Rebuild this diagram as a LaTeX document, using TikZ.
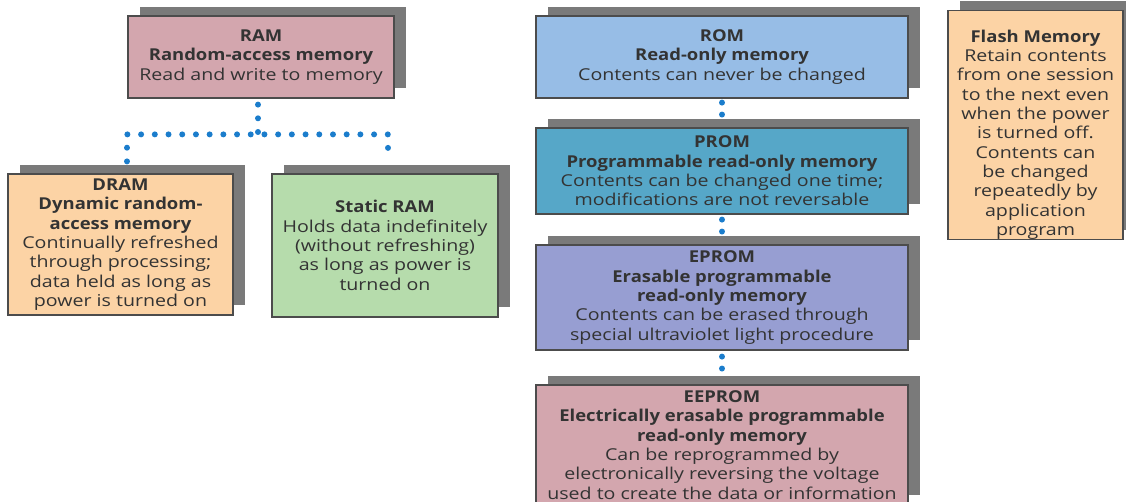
\documentclass[tikz,border=0pt]{standalone}
\usepackage{fontspec}
\setmainfont{Open Sans}[FakeStretch=1.2, BoldFeatures={FakeStretch=1.13}]
\usetikzlibrary{calc}
\usetikzlibrary{shadows}

\definecolor{rampink}{HTML}{D3A6AE}
\definecolor{peach}{HTML}{FCD3A5}
\definecolor{srgreen}{HTML}{B6DCAC}
\definecolor{romblue}{HTML}{97BDE6}
\definecolor{promteal}{HTML}{56A7C8}
\definecolor{epromviolet}{HTML}{979ED2}
\definecolor{shadowgray}{HTML}{7A7A7A}
\definecolor{dotblue}{HTML}{1B7DCC}

\tikzset{
  membox/.style={draw=black!70, line width=.7pt, align=center, inner sep=0pt, text=black!80,
    general shadow={fill=shadowgray, shadow xshift=.24cm, shadow yshift=.19cm},
    font=\fontsize{9.3}{11}\selectfont},
  dotline/.style={draw=dotblue, line width=3.4pt, line cap=round, dash pattern=on 0pt off 7.8pt},
  pairdots/.style={dotline, dash pattern=on 0pt off 6.8pt}
}

\begin{document}
\begin{tikzpicture}[x=0.02cm, y=-0.02cm]
\useasboundingbox (0,0) rectangle (1126,502);

\node (ram) at (261,57) [membox, fill=rampink, minimum width=5.32cm, minimum height=1.64cm]
  {\textbf{RAM}\\ \textbf{Random-access memory}\\ Read and write to memory};
\node (dram) at (120.5,244.5) [membox, fill=peach, minimum width=4.5cm, minimum height=2.82cm]
  {\textbf{DRAM}\\ \textbf{Dynamic random-}\\ \textbf{access memory}\\ Continually refreshed\\ through processing;\\ data held as long as\\ power is turned on};
\node (sram) at (385,245.5) [membox, fill=srgreen, minimum width=4.52cm, minimum height=2.86cm]
  {\textbf{Static RAM}\\ Holds data indefinitely\\ (without refreshing)\\ as long as power is\\ turned on};

\node (rom) at (722,57) [membox, fill=romblue, minimum width=7.44cm, minimum height=1.64cm]
  {\textbf{ROM}\\ \textbf{Read-only memory}\\ Contents can never be changed};
\node (prom) at (722,171) [membox, fill=promteal, minimum width=7.44cm, minimum height=1.72cm]
  {\textbf{PROM}\\ \textbf{Programmable read-only memory}\\ Contents can be changed one time;\\ modifications are not reversable};
\node (eprom) at (722,297.5) [membox, fill=epromviolet, minimum width=7.44cm, minimum height=2.1cm]
  {\textbf{EPROM}\\ \textbf{Erasable programmable}\\ \textbf{read-only memory}\\ Contents can be erased through\\ special ultraviolet light procedure};
\node (eeprom) at (722,445) [membox, fill=rampink, minimum width=7.44cm, minimum height=2.4cm]
  {\textbf{EEPROM}\\ \textbf{Electrically erasable programmable}\\ \textbf{read-only memory}\\ Can be reprogrammed by\\ electronically reversing the voltage\\ used to create the data or information};

\node (flash) at (1035.5,125) [membox, fill=peach, minimum width=3.5cm, minimum height=4.48cm]
  {\rule{0pt}{18pt}\textbf{Flash Memory}\\ Retain contents\\ from one session\\ to the next even\\ when the power\\ is turned off.\\ Contents can\\ be changed\\ repeatedly by\\ application\\ program};

% RAM splits into the two kinds
\draw [dotline] ($(ram.south)+(-3,6)$) -- ++(0,31) coordinate (fork);
\draw [dotline] ($(dram.north)+(6.5,-12)$) -- ++(0,-27) -| ($(sram.north)+(3,-12)$);

% ROM family
\draw [pairdots] ($(rom.south)+(0,4)$) -- ++(0,18);
\draw [pairdots] ($(prom.south)+(0,5)$) -- ++(0,18);
\draw [pairdots] ($(eprom.south)+(0,6)$) -- ++(0,18);
\end{tikzpicture}
\end{document}
